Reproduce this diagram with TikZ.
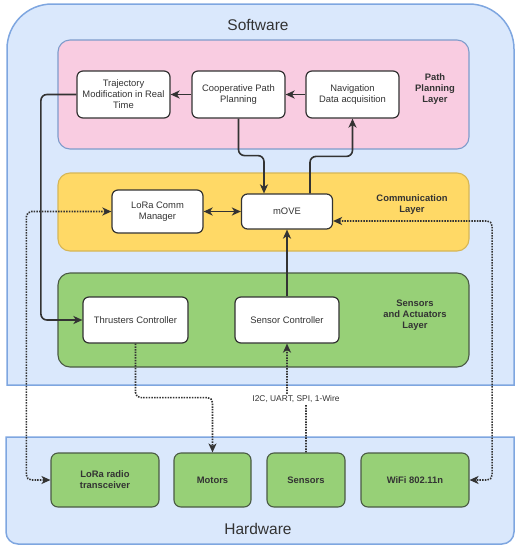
\documentclass[tikz,border=0pt]{standalone}
\usepackage{fontspec}
\setmainfont{Liberation Sans}
\usepackage{xcolor}
\usepackage{tikz}
\usetikzlibrary{arrows.meta, positioning, calc}
\definecolor{swFill}{HTML}{DAE8FC}
\definecolor{swLine}{HTML}{7EA6E0}
\definecolor{ppFill}{HTML}{F9CCE1}
\definecolor{ppLine}{HTML}{7E9CCB}
\definecolor{cmFill}{HTML}{FFD966}
\definecolor{cmLine}{HTML}{D6B656}
\definecolor{saFill}{HTML}{97D077}
\definecolor{saLine}{HTML}{4A5A44}
\definecolor{ink}{HTML}{333333}

\begin{document}
\begin{tikzpicture}[x=1pt, y=-1pt,
    >={Stealth[length=9pt, width=8pt, inset=2.5pt]},
    box/.style={rectangle, rounded corners=6pt, draw=ink, line width=1.2pt, fill=white,
      text=ink, font=\fontsize{9.4}{11}\selectfont, inner sep=2pt, align=center},
    hwbox/.style={rectangle, rounded corners=7pt, draw=saLine, line width=1.1pt, fill=saFill,
      text=ink, font=\fontsize{9.4}{11}\selectfont\bfseries, minimum height=54pt, align=center},
    layerlbl/.style={text=ink, font=\fontsize{9.4}{11}\selectfont\bfseries, align=center},
    title/.style={text=ink, font=\fontsize{15.5}{18}\selectfont},
    arr/.style={->, line width=1.6pt, ink, rounded corners=6pt},
    darr/.style={<->, line width=1.6pt, ink},
    dotarr/.style={->, line width=1.6pt, ink, dash pattern=on 1.5pt off 1.2pt, rounded corners=5pt}
  ]
  \useasboundingbox (0,0) rectangle (524,550);

  % outer software / hardware areas
  \filldraw[fill=swFill, draw=swLine, line width=1.5pt]
    (7,200) [rounded corners=45pt] -- (7,4) -- (514,4) -- (514,200) [sharp corners] -- (514,385) -- (7,385) -- cycle;
  \filldraw[fill=swFill, draw=swLine, line width=1.5pt]
    (6,490) -- (6,437) -- (514,437) -- (514,490) [rounded corners=12pt] -- (514,544) -- (6,544) -- (6,490) [sharp corners] -- cycle;
  \node[title] (sw) at (258,25) {Software};
  \node[title] (hw) at (258,529) {Hardware};

  % layers
  \filldraw[fill=ppFill, draw=ppLine, line width=1.1pt, rounded corners=12pt] (58,40) rectangle (469,149);
  \filldraw[fill=cmFill, draw=cmLine, line width=1.1pt, rounded corners=12pt] (58,173) rectangle (469,251);
  \filldraw[fill=saFill, draw=saLine, line width=1.1pt, rounded corners=12pt] (58,273) rectangle (469,367);
  \node[layerlbl] (ppl) at (435,89)  {Path\\Planning\\Layer};
  \node[layerlbl] (cml) at (412,205) {Communication\\Layer};
  \node[layerlbl] (sal) at (415,315) {Sensors\\and Actuators\\Layer};

  % software blocks
  \node[box, minimum width=93pt, minimum height=47pt] (traj) at (123.5,94.5) {Trajectory\\Modification in Real\\Time};
  \node[box, minimum width=93pt, minimum height=47pt] (coop) at (238.5,94.5) {Cooperative Path\\Planning};
  \node[box, minimum width=93pt, minimum height=47pt] (nav)  at (352.5,94.5) {Navigation\\Data acquisition};
  \node[box, minimum width=91pt, minimum height=43pt] (lcm)  at (157.5,211.5) {LoRa Comm\\Manager};
  \node[box, minimum width=91pt, minimum height=35pt] (move) at (287,211.5) {mOVE};
  \node[box, minimum width=105pt, minimum height=46pt] (thr) at (135.5,320) {Thrusters Controller};
  \node[box, minimum width=104pt, minimum height=46pt] (sc)  at (287,320) {Sensor Controller};

  % hardware blocks
  \node[hwbox, minimum width=108pt] (lora) at (105,480)   {LoRa radio\\transceiver};
  \node[hwbox, minimum width=77pt]  (mot)  at (212.5,480) {Motors};
  \node[hwbox, minimum width=78pt]  (sen)  at (306,480)   {Sensors};
  \node[hwbox, minimum width=108pt] (wifi) at (415,480)   {WiFi 802.11n};

  % solid links
  \draw[arr] (nav) -- (coop);
  \draw[arr] (coop) -- (traj);
  \draw[arr] (coop.south) -- ++(0,37) -| ([xshift=-23pt]move.north);
  \draw[arr] ([xshift=23pt]move.north) -- ++(0,-37) -| (nav.south);
  \draw[arr] (traj.west) -- ++(-35.5,0) |- (thr.west);
  \draw[darr] (lcm) -- (move);
  \draw[arr] (sc) -- (move);

  % dotted links to hardware
  \draw[dotarr, <->] (lcm.west) -- ++(-85,0) |- (lora.west);
  \draw[dotarr, <->] ([yshift=-9.5pt]move.east) -- ++(159,0) |- (wifi.east);
  \draw[dotarr] (thr.south) -- ++(0,54) -| (mot.north);
  \draw[dotarr] (sen.north) -- ++(0,-54) -| (sc.south);
  \node[fill=white, text=ink, font=\fontsize{8.4}{10}\selectfont, inner sep=1.5pt] (bus) at (296,399) {I2C, UART, SPI, 1-Wire};
\end{tikzpicture}
\end{document}
